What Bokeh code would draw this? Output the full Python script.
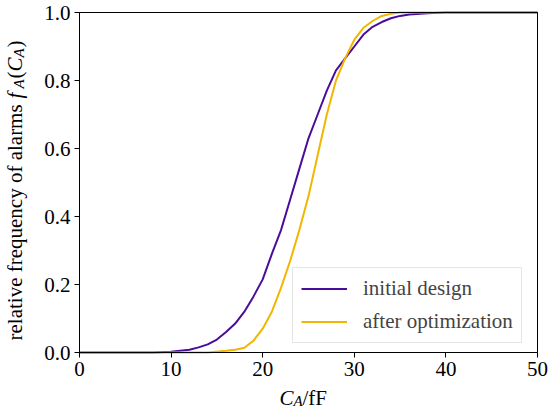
import math
from bokeh.plotting import figure
from bokeh.models import (Range1d, FixedTicker, Label, Legend, LegendItem,
                          PrintfTickFormatter, BoxAnnotation)
from bokeh.embed import file_html
from bokeh.resources import INLINE

# ---- data ----
init_x = [0, 8, 10, 12, 13, 14, 15, 16, 17, 18, 19, 20, 21, 22, 23, 24, 25, 26, 27, 28, 29,
          30, 31, 32, 33, 34, 35, 36, 38, 40, 50]
init_y = [0, 0, 0.002, 0.008, 0.015, 0.024, 0.038, 0.06, 0.085, 0.12, 0.165, 0.215, 0.29, 0.36,
          0.45, 0.54, 0.63, 0.70, 0.77, 0.83, 0.865, 0.90, 0.935, 0.958, 0.972, 0.983, 0.99,
          0.994, 0.998, 1.0, 1.0]
opt_x = [0, 14, 16, 17, 18, 19, 20, 21, 22, 23, 24, 25, 26, 27, 28, 29, 30, 31, 32, 33, 34,
         35, 36, 50]
opt_y = [0, 0, 0.005, 0.008, 0.014, 0.035, 0.07, 0.12, 0.19, 0.27, 0.36, 0.46, 0.58, 0.70,
         0.80, 0.865, 0.92, 0.955, 0.975, 0.99, 0.996, 1.0, 1.0, 1.0]
x_ticks = [0, 10, 20, 30, 40, 50]
y_ticks = [0.0, 0.2, 0.4, 0.6, 0.8, 1.0]
x_lim = (0, 50)
y_lim = (0, 1)
series_names = ["initial design", "after optimization"]

PURPLE = "#4B0C9B"
YELLOW = "#F2B600"
FONT = "Liberation Serif"
LFONT = "'Liberation Serif', serif"
FS = "21px"
SUB = "15px"

# canvas geometry (pixels) of the axes box
W, H = 556, 408
L, R, T, B = 79, 537, 12, 352
sx = (R - L) / (x_lim[1] - x_lim[0])
sy = (B - T) / (y_lim[1] - y_lim[0])

p = figure(width=W, height=H, output_backend="svg", toolbar_location=None,
           x_range=Range1d(x_lim[0] - L / sx, x_lim[1] + (W - R) / sx),
           y_range=Range1d(y_lim[0] - (H - B) / sy, y_lim[1] + T / sy),
           min_border=0)
p.background_fill_color = "white"
p.border_fill_color = "white"
p.outline_line_color = None
p.grid.visible = False

for ax in (p.xaxis[0], p.yaxis[0]):
    ax.major_label_text_font = FONT
    ax.major_label_text_font_size = FS
    ax.major_label_text_color = "black"
    ax.major_tick_in = 0
    ax.major_tick_out = 5
    ax.minor_tick_in = 0
    ax.minor_tick_out = 0
    ax.axis_line_color = "black"
    ax.major_tick_line_color = "black"
    ax.major_label_standoff = 4
p.xaxis[0].ticker = FixedTicker(ticks=x_ticks)
p.yaxis[0].ticker = FixedTicker(ticks=y_ticks)
p.xaxis[0].bounds = x_lim
p.yaxis[0].bounds = y_lim
p.xaxis[0].fixed_location = y_lim[0]
p.yaxis[0].fixed_location = x_lim[0]
p.yaxis[0].formatter = PrintfTickFormatter(format="%.1f")

# axes box
p.add_layout(BoxAnnotation(left=x_lim[0], right=x_lim[1], bottom=y_lim[0], top=y_lim[1],
                           fill_color=None, fill_alpha=0, line_color="black",
                           line_alpha=1, line_width=1, level="overlay"))

r1 = p.line(init_x, init_y, line_color=PURPLE, line_width=2)
r2 = p.line(opt_x, opt_y, line_color=YELLOW, line_width=2)

legend = Legend(items=[LegendItem(label=series_names[0], renderers=[r1]),
                       LegendItem(label=series_names[1], renderers=[r2])],
                location=(292, H - 343), margin=0, padding=8, spacing=8,
                glyph_width=46, glyph_height=21, label_height=21, label_standoff=16,
                label_text_font=FONT, label_text_font_size=FS,
                border_line_color="#cccccc", border_line_width=1,
                background_fill_alpha=0.8)
p.add_layout(legend, "center")

def lab(text, x, y, size, style="normal", angle=0.0):
    """x, y: canvas pixels (x from left, y = text baseline from top)."""
    p.add_layout(Label(x=x, y=H - y, x_units="screen", y_units="screen", text=text,
                       text_font=LFONT, text_font_size=size, text_font_style=style,
                       text_color="black", angle=angle, text_baseline="alphabetic",
                       text_align="left"))

# x label: C_A/fF
lab("C", 279, 397, FS, "italic")
lab("A", 293, 400, SUB, "italic")
lab("/fF", 302, 397, FS)

# y label: relative frequency of alarms f_A(C_A)  (rotated, reads upward)
a = math.pi / 2
bx = 14.5
lab("relative frequency of alarms", bx, 340, FS, angle=a)
lab("f", bx, 98, FS, "italic", a)
lab("A", bx + 4, 88, SUB, "italic", a)
lab("(", bx, 78, FS, angle=a)
lab("C", bx, 71, FS, "italic", a)
lab("A", bx + 4, 57, SUB, "italic", a)
lab(")", bx, 47, FS, angle=a)

open("out.html", "w").write(file_html(p, INLINE))
